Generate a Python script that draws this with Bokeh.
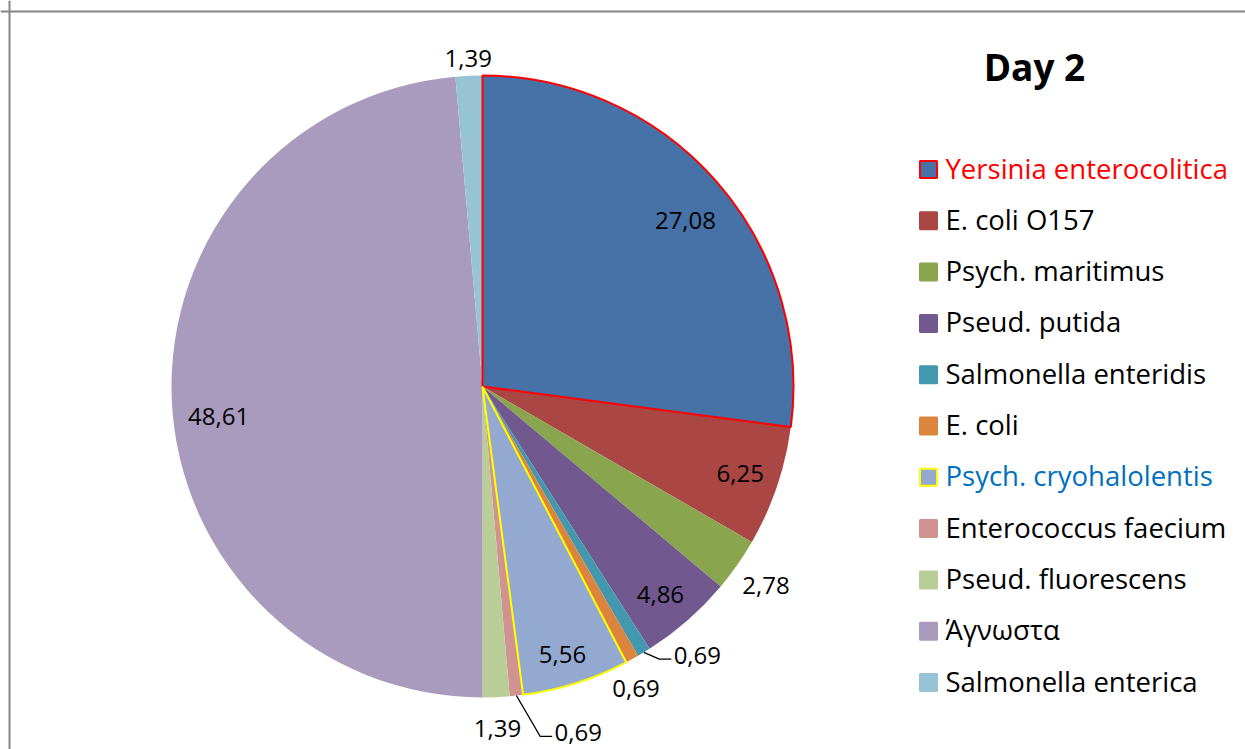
import math
from bokeh.plotting import figure
from bokeh.models import ColumnDataSource, Range1d, Span, Label
from bokeh.core.properties import value
from bokeh.embed import file_html
from bokeh.resources import INLINE

# ---- data ----
categories = ["Yersinia enterocolitica", "E. coli O157", "Psych. maritimus",
              "Pseud. putida", "Salmonella enteridis", "E. coli",
              "Psych. cryohalolentis", "Enterococcus faecium",
              "Pseud. fluorescens", "Άγνωστα", "Salmonella enterica"]
values = [27.08, 6.25, 2.78, 4.86, 0.69, 0.69, 5.56, 0.69, 1.39, 48.61, 1.39]
colors = ["#4672A7", "#AA4643", "#89A54E", "#71588F", "#4198AF", "#DB843D",
          "#93A9CF", "#D19392", "#B9CD96", "#A99BBD", "#96C4D5"]
title_text = "Day 2"

# ---- layout / style (not data) ----
W, H = 1245, 749
FONT = "Open Sans"
cx, cy, R = 482, H - 386, 311
label_rf = [0.844, 0.875, 1.113, 0.88, 1.106, 1.088, 0.90, 1.154, 1.10, 0.854, 1.055]
label_off = [1.9, 0, 0, 0.7, -7.4, 1.8, 0.9, -9.2, 0, -4.0, 0]
leader = [False, False, False, False, True, False, False, True, False, False, False]
outline = {0: "#FF0000", 6: "#FFFF00"}
legend_text_colors = {0: "#FF0000", 6: "#0070C0"}

total = sum(values)
starts, ends, mids = [], [], []
cum = 0.0
for v in values:
    a0 = math.pi / 2 - 2 * math.pi * cum / total
    cum += v
    a1 = math.pi / 2 - 2 * math.pi * cum / total
    starts.append(a0)
    ends.append(a1)
    mids.append((a0 + a1) / 2)

p = figure(width=W, height=H, output_backend="svg", toolbar_location=None,
           x_range=Range1d(0, W), y_range=Range1d(0, H), min_border=0)
p.axis.visible = False
p.grid.visible = False
p.outline_line_color = None
p.background_fill_color = "white"

src = ColumnDataSource(dict(start=starts, end=ends, color=colors, cat=categories))
p.wedge(x=cx, y=cy, radius=R, start_angle="start", end_angle="end",
        direction="clock", fill_color="color", line_color=None, source=src)

for i, c in outline.items():
    p.wedge(x=cx, y=cy, radius=R, start_angle=starts[i], end_angle=ends[i],
            direction="clock", fill_alpha=0, line_color=c, line_width=2)

# data labels
lx, ly, lt = [], [], []
for i, v in enumerate(values):
    a = mids[i] - math.radians(label_off[i])
    x = cx + label_rf[i] * R * math.cos(a)
    y = cy + label_rf[i] * R * math.sin(a)
    lx.append(x)
    ly.append(y)
    lt.append(f"{v:.2f}".replace(".", ","))
    if leader[i]:
        ex = cx + R * math.cos(mids[i])
        ey = cy + R * math.sin(mids[i])
        p.line([ex, x - 38, x - 26], [ey, y - 4, y - 4], line_color="black", line_width=1.2)
p.text(x=lx, y=ly, text=lt, text_font=value(FONT), text_font_size="24px",
       text_align="center", text_baseline="middle", text_color="black")

# legend
gx, gy, gc, glc, tc = [], [], [], [], []
for i, name in enumerate(categories):
    yy = H - (169 + 51.3 * i)
    gx.append(928)
    gy.append(yy)
    gc.append(colors[i])
    glc.append(outline.get(i, colors[i]))
    tc.append(legend_text_colors.get(i, "black"))
p.scatter(x=gx, y=gy, marker="square", size=17, fill_color=gc, line_color=glc, line_width=2)
p.text(x=[x + 17 for x in gx], y=[y + 1.5 for y in gy], text=categories, text_color=tc,
       text_font=value(FONT), text_font_size="27.5px", text_align="left", text_baseline="middle")

p.add_layout(Label(x=1034, y=H - 66, text=title_text, text_font=FONT, text_font_size="37px",
                   text_font_style="bold", text_align="center", text_baseline="middle",
                   text_color="black"))

# chart border (partly visible)
p.add_layout(Span(location=9, dimension="height", line_color="#868686", line_width=2))
p.add_layout(Span(location=H - 11, dimension="width", line_color="#868686", line_width=2))

open("out.html", "w").write(file_html(p, INLINE))
